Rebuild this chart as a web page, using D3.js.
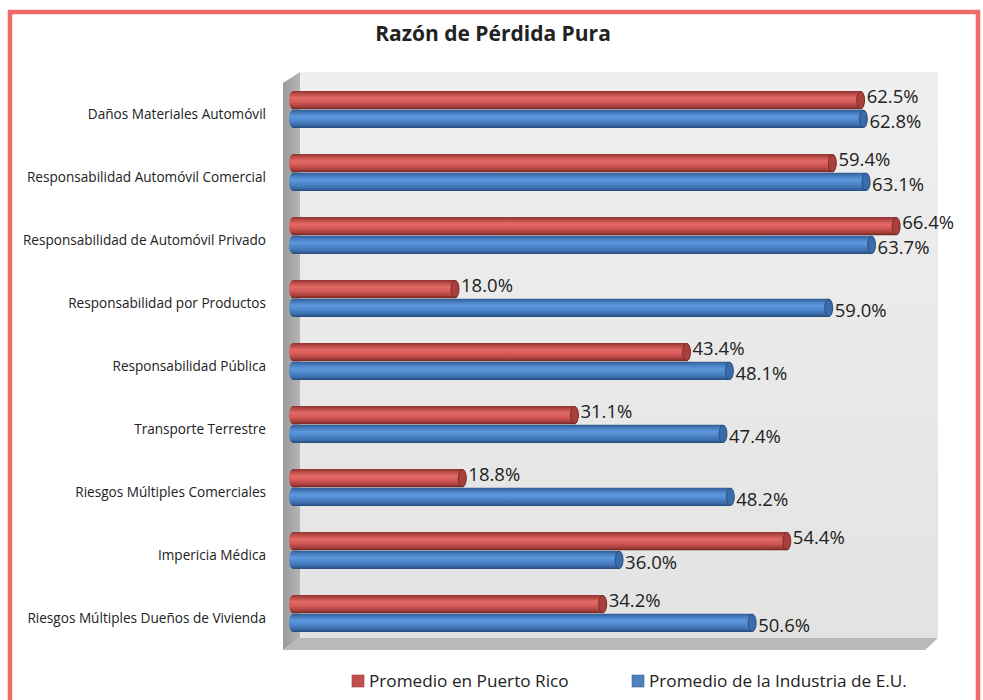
<!DOCTYPE html>
<html>
<head>
<meta charset="utf-8">
<script src="https://cdn.jsdelivr.net/npm/d3@7"></script>
<style>
  body { margin: 0; background: #fff; }
  text { font-family: "Open Sans", "Noto Sans", sans-serif; fill: #222; }
</style>
</head>
<body>
<div id="chart"></div>
<script>
// Data
var categories = [
    "Daños Materiales Automóvil",
    "Responsabilidad Automóvil Comercial",
    "Responsabilidad de Automóvil Privado",
    "Responsabilidad por Productos",
    "Responsabilidad Pública",
    "Transporte Terrestre",
    "Riesgos Múltiples Comerciales",
    "Impericia Médica",
    "Riesgos Múltiples Dueños de Vivienda"
];
var seriesNames = ["Promedio en Puerto Rico", "Promedio de la Industria de E.U."];
var prValues = [62.5, 59.4, 66.4, 18.0, 43.4, 31.1, 18.8, 54.4, 34.2];
var usValues = [62.8, 63.1, 63.7, 59.0, 48.1, 47.4, 48.2, 36.0, 50.6];

var w = 983;
var h = 700;

var rows = categories.map(function(c, i) {
    return { cat: c, values: [prValues[i], usValues[i]] };
});

var xScale = d3.scaleLinear()
    .domain([0, 70])
    .range([295, 933]);

var yScale = d3.scaleBand()
    .domain(categories)
    .range([91, 632])
    .paddingInner(0.413)
    .paddingOuter(0);

var ySub = d3.scaleBand()
    .domain([0, 1])
    .range([0, yScale.bandwidth()])
    .paddingInner(0.03);

var svg = d3.select("#chart")
    .append("svg")
    .attr("width", w)
    .attr("height", h);

var defs = svg.append("defs");

// cylinder gradients
var palettes = [
    ["#8e3431", "#c24f4c", "#e26a67", "#d65a57", "#a8403d", "#6e2523"],
    ["#2f5d94", "#4a80c4", "#5d97dc", "#4f87cc", "#3a6ca9", "#24497a"]
];
palettes.forEach(function(p, i) {
    var g = defs.append("linearGradient")
        .attr("id", "cyl" + i)
        .attr("x1", 0).attr("y1", 0).attr("x2", 0).attr("y2", 1);
    [0, 0.2, 0.38, 0.6, 0.85, 1].forEach(function(o, j) {
        g.append("stop").attr("offset", o).attr("stop-color", p[j]);
    });
});

var wallGrad = defs.append("linearGradient")
    .attr("id", "wall").attr("x1", 0).attr("y1", 0).attr("x2", 0).attr("y2", 1);
wallGrad.append("stop").attr("offset", 0).attr("stop-color", "#efefef");
wallGrad.append("stop").attr("offset", 1).attr("stop-color", "#e3e3e3");

var sideGrad = defs.append("linearGradient")
    .attr("id", "side").attr("x1", 0).attr("y1", 0).attr("x2", 1).attr("y2", 0);
sideGrad.append("stop").attr("offset", 0).attr("stop-color", "#9a9a9a");
sideGrad.append("stop").attr("offset", 1).attr("stop-color", "#b5b5b5");

// outer frame
svg.append("rect")
    .attr("x", 10)
    .attr("y", 12)
    .attr("width", 968)
    .attr("height", 700)
    .attr("fill", "none")
    .attr("stroke", "#ef6b67")
    .attr("stroke-width", 4.5);

// title
svg.append("text")
    .attr("x", 493)
    .attr("y", 41)
    .attr("text-anchor", "middle")
    .style("font-size", "21px")
    .style("font-weight", "bold")
    .text("Razón de Pérdida Pura");

// 3D walls
var x0 = xScale(0), x1 = xScale(70);
svg.append("rect")
    .attr("x", x0 + 5)
    .attr("y", 72)
    .attr("width", x1 - x0)
    .attr("height", 566)
    .attr("fill", "url(#wall)");

svg.append("polygon")
    .attr("points", [[x0 - 12, 83], [x0 + 5, 72], [x0 + 5, 638], [x0 - 12, 650]].join(" "))
    .attr("fill", "url(#side)");

svg.append("polygon")
    .attr("points", [[x0 - 12, 650], [x0 + 5, 638], [x1 + 5, 638], [x1 - 8, 650]].join(" "))
    .attr("fill", "#b9b9b9");

// bars
var groups = svg.selectAll("g.cat")
    .data(rows)
    .enter()
    .append("g")
    .attr("class", "cat")
    .attr("transform", function(d) {
        return "translate(0," + yScale(d.cat) + ")";
    });

var bars = groups.selectAll("g.bar")
    .data(function(d) {
        return d.values.map(function(v, i) { return { v: v, s: i }; });
    })
    .enter()
    .append("g")
    .attr("class", "bar");

var bh = ySub.bandwidth();

bars.append("rect")
    .attr("x", xScale(0) - 6)
    .attr("y", function(d) { return ySub(d.s); })
    .attr("width", function(d) { return xScale(d.v) - xScale(0) + 6; })
    .attr("height", bh)
    .attr("rx", 4)
    .attr("ry", bh / 2)
    .attr("fill", function(d) { return "url(#cyl" + d.s + ")"; });

bars.append("ellipse")
    .attr("cx", function(d) { return xScale(d.v) - 4; })
    .attr("cy", function(d) { return ySub(d.s) + bh / 2; })
    .attr("rx", 4)
    .attr("ry", bh / 2 - 0.5)
    .attr("fill", function(d) { return palettes[d.s][4]; })
    .attr("stroke", function(d) { return palettes[d.s][5]; })
    .attr("stroke-width", 0.8);

// value labels: red ones sit a bit high, blue ones a bit low
bars.append("text")
    .attr("x", function(d) { return xScale(d.v) + 2; })
    .attr("y", function(d) { return ySub(d.s) + bh / 2 + (d.s === 0 ? -4 : 3); })
    .attr("dy", "0.35em")
    .style("font-size", "18.5px")
    .text(function(d) { return d.v.toFixed(1) + "%"; });

// category labels
svg.selectAll("text.cat-label")
    .data(categories)
    .enter()
    .append("text")
    .attr("class", "cat-label")
    .attr("x", 266)
    .attr("y", function(d) { return yScale(d) + yScale.bandwidth() / 2 + 5; })
    .attr("dy", "0.35em")
    .attr("text-anchor", "end")
    .style("font-size", "13.6px")
    .text(function(d) { return d; });

// legend
var legendX = [352, 632];
var legend = svg.selectAll("g.legend-item")
    .data(seriesNames)
    .enter()
    .append("g")
    .attr("class", "legend-item")
    .attr("transform", function(d, i) {
        return "translate(" + legendX[i] + ",675)";
    });

legend.append("rect")
    .attr("width", 12)
    .attr("height", 12)
    .attr("fill", function(d, i) { return i === 0 ? "#c0504d" : "#4f81bd"; })
    .attr("stroke", function(d, i) { return i === 0 ? "#9c3d3a" : "#3a679c"; })
    .attr("stroke-width", 0.6);

legend.append("text")
    .attr("x", 17)
    .attr("y", 6)
    .attr("dy", "0.35em")
    .style("font-size", "17.2px")
    .text(function(d) { return d; });
</script>
</body>
</html>
